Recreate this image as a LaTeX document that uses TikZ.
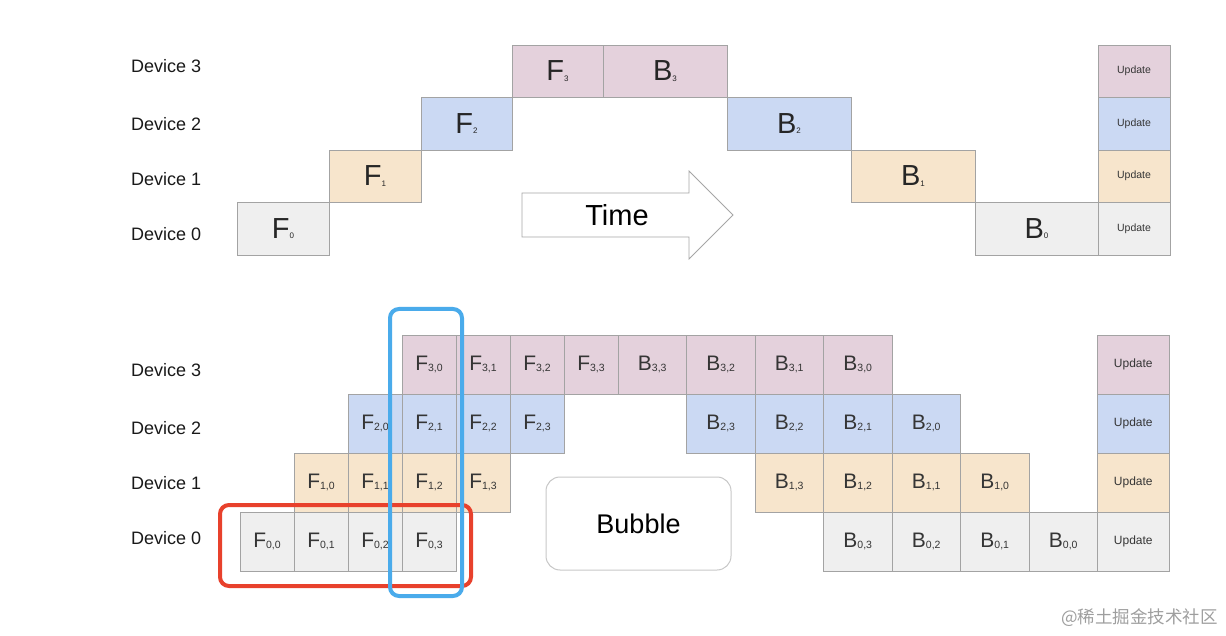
\documentclass[tikz,border=0pt]{standalone}
\usepackage{fontspec}
\setmainfont{Liberation Sans}
\newfontfamily\cjk{Noto Sans CJK SC}
\definecolor{cthree}{HTML}{E4D1DC}
\definecolor{ctwo}{HTML}{CBD9F3}
\definecolor{cone}{HTML}{F7E5CC}
\definecolor{czero}{HTML}{EFEFEF}
\definecolor{bord}{HTML}{A3A3A3}
\definecolor{txt}{HTML}{353535}
\definecolor{redbox}{HTML}{E8412C}
\definecolor{bluebox}{HTML}{4AABEB}
\newcommand\subsm[1]{\raisebox{-0.5pt}{\fontsize{8}{8}\selectfont #1}}
\newcommand\subbt[1]{\raisebox{-0.5pt}{\fontsize{10.5}{10.5}\selectfont #1}}
\tikzset{
  blk/.style={draw=bord, line width=0.9pt, inner sep=0pt, outer sep=0pt, anchor=north west, text=black!85},
  bigtxt/.style={font=\fontsize{29}{29}\selectfont},
  smalltxt/.style={font=\fontsize{21}{21}\selectfont, text=txt},
  updtop/.style={font=\fontsize{10.5}{11}\selectfont, text=txt},
  updbot/.style={font=\fontsize{12}{12}\selectfont, text=txt},
  devlbl/.style={font=\fontsize{18}{18}\selectfont, anchor=west, inner sep=0pt, text=black!90},
}
\begin{document}
\begin{tikzpicture}[x=1pt,y=-1pt]
\useasboundingbox (0,0) rectangle (1226,636);
% ---------- top diagram ----------
\node[devlbl] (td3) at (131,66) {Device 3};
\node[devlbl] (td2) at (131,124) {Device 2};
\node[devlbl] (td1) at (131,179) {Device 1};
\node[devlbl] (td0) at (131,234) {Device 0};
\node[blk,bigtxt,fill=czero,minimum width=92,minimum height=52.5] (tf0) at (237,202.5) {F\subsm{0}};
\node[blk,bigtxt,fill=cone,minimum width=92,minimum height=52.5] (tf1) at (329,150) {F\subsm{1}};
\node[blk,bigtxt,fill=ctwo,minimum width=91,minimum height=52.5] (tf2) at (421,97.5) {F\subsm{2}};
\node[blk,bigtxt,fill=cthree,minimum width=91,minimum height=52.5] (tf3) at (512,45) {F\subsm{3}};
\node[blk,bigtxt,fill=cthree,minimum width=124,minimum height=52.5] (tb3) at (603,45) {B\subsm{3}};
\node[blk,bigtxt,fill=ctwo,minimum width=124,minimum height=52.5] (tb2) at (727,97.5) {B\subsm{2}};
\node[blk,bigtxt,fill=cone,minimum width=124,minimum height=52.5] (tb1) at (851,150) {B\subsm{1}};
\node[blk,bigtxt,fill=czero,minimum width=123,minimum height=52.5] (tb0) at (975,202.5) {B\subsm{0}};
\node[blk,updtop,fill=cthree,minimum width=72,minimum height=52.5] (tu3) at (1098,45) {Update};
\node[blk,updtop,fill=ctwo,minimum width=72,minimum height=52.5] (tu2) at (1098,97.5) {Update};
\node[blk,updtop,fill=cone,minimum width=72,minimum height=52.5] (tu1) at (1098,150) {Update};
\node[blk,updtop,fill=czero,minimum width=72,minimum height=52.5] (tu0) at (1098,202.5) {Update};
% time arrow
\draw[draw=black!35, line width=0.8pt, fill=white] (522,193) -- (689,193) -- (689,171) -- (733,215) -- (689,259) -- (689,237) -- (522,237) -- cycle;
\node[bigtxt] (time) at (617,215) {Time};
% ---------- bottom diagram ----------
\node[devlbl] (bd3) at (131,370) {Device 3};
\node[devlbl] (bd2) at (131,428) {Device 2};
\node[devlbl] (bd1) at (131,483) {Device 1};
\node[devlbl] (bd0) at (131,538) {Device 0};
\foreach \d/\col in {0/czero,1/cone,2/ctwo,3/cthree} {
  \pgfmathsetmacro\yt{335+59*(3-\d)}
  \foreach \m in {0,...,3} {
    \pgfmathsetmacro\xf{240+54*(\d+\m)}
    \node[blk,smalltxt,fill=\col,minimum width=54,minimum height=59] (f\d\m) at (\xf,\yt) {F\subbt{\d,\m}};
    \pgfmathsetmacro\xb{618+68.5*((3-\d)+(3-\m))}
    \node[blk,smalltxt,fill=\col,minimum width=68.5,minimum height=59] (b\d\m) at (\xb,\yt) {B\subbt{\d,\m}};
  }
  \node[blk,updbot,fill=\col,minimum width=71.5,minimum height=59] (u\d) at (1097.5,\yt) {Update};
}
% bubble
\node[draw=black!22, line width=1pt, rounded corners=14pt, minimum width=185, minimum height=93, inner sep=0pt, font=\fontsize{27}{27}\selectfont] (bubble) at (638.5,523.5) {Bubble};
% highlight boxes
\node[draw=redbox, line width=4pt, rounded corners=9pt, minimum width=251, minimum height=81, inner sep=0pt] (redhl) at (345.5,545.5) {};
\node[draw=bluebox, line width=4pt, rounded corners=9pt, minimum width=72, minimum height=287, inner sep=0pt] (bluehl) at (426,452.5) {};
% watermark
\node[text=black!38, font=\cjk\fontsize{17.5}{17.5}\selectfont, anchor=east, inner sep=0pt] (wm) at (1218,618) {@稀土掘金技术社区};
\end{tikzpicture}
\end{document}
